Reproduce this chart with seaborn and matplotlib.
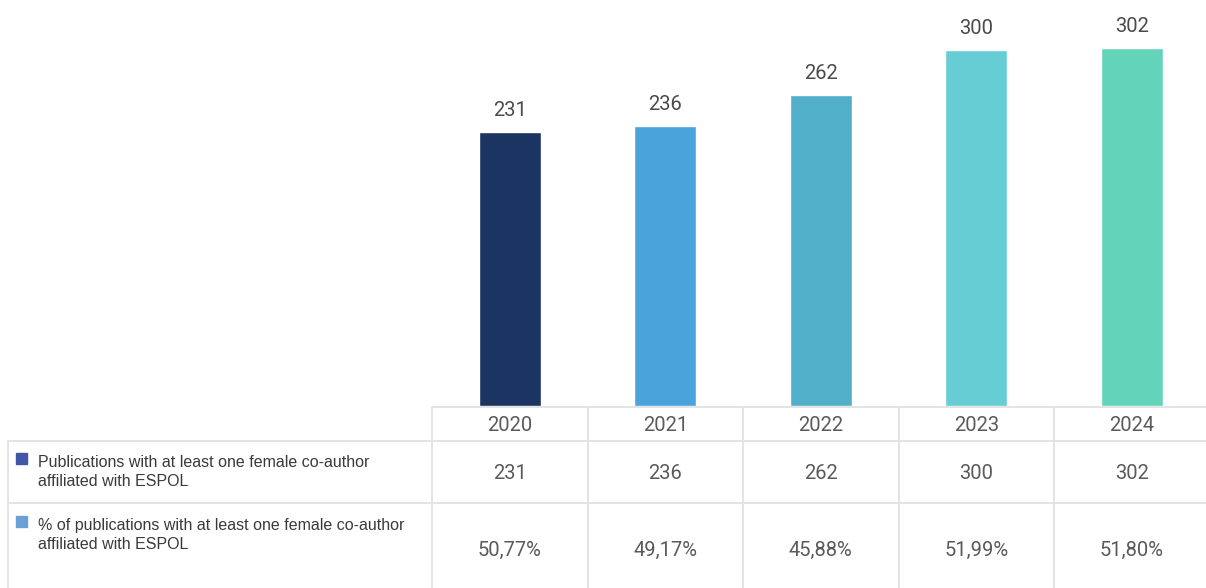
import matplotlib
matplotlib.use("Agg")
import matplotlib.pyplot as plt
from matplotlib.patches import Rectangle
import seaborn as sns
import pandas as pd

years = ["2020", "2021", "2022", "2023", "2024"]
publications = [231, 236, 262, 300, 302]
percent_labels = ["50,77%", "49,17%", "45,88%", "51,99%", "51,80%"]
bar_colors = ["#1B3461", "#4BA3DC", "#52AFC9", "#65CDD3", "#63D3BA"]
row_labels = [
    "Publications with at least one female co-author\naffiliated with ESPOL",
    "% of publications with at least one female co-author\naffiliated with ESPOL",
]
legend_colors = ["#4356A6", "#6C9FD6"]

W, H = 1206, 588
sns.set_theme(style="white")
plt.rcParams["font.family"] = ["Roboto", "DejaVu Sans"]

fig = plt.figure(figsize=(W / 100, H / 100), dpi=100)

# Bar area sits above the data table; columns are 155.5 px wide starting at x=432
col_left, col_w, base_y = 432, 155.5, 406
ax = fig.add_axes([col_left / W, (H - base_y) / H, 5 * col_w / W, base_y / H])
df = pd.DataFrame({"year": years, "value": publications})
sns.barplot(data=df, x="year", y="value", hue="year", palette=bar_colors,
            width=0.4, legend=False, ax=ax, saturation=1)
ax.set_xlim(-0.5, 4.5)
ax.set_ylim(0, 342.3)
ax.axis("off")
for i, v in enumerate(publications):
    ax.annotate(f"{v}", (i, v), xytext=(0, 15.5), textcoords="offset points",
                ha="center", va="center", fontsize=14.5, color="#4a4a4a")

# Overlay in pixel coordinates for the table grid and text
ov = fig.add_axes([0, 0, 1, 1], facecolor="none")
ov.set_xlim(0, W)
ov.set_ylim(H, 0)
ov.axis("off")
grid = dict(color="#E2E2E2", lw=1.3)
ov.plot([col_left, W], [base_y + 1, base_y + 1], **grid)
ov.plot([8, W], [441, 441], **grid)
ov.plot([8, W], [503, 503], **grid)
ov.plot([8, 8], [441, H], **grid)
for i in range(5):
    x = col_left + col_w * i
    ov.plot([x, x], [base_y + 1, H], **grid)

centers = [col_left + col_w * (i + 0.5) for i in range(5)]
txt = dict(ha="center", va="center", fontsize=14.5, color="#5a5a5a")
for c, yr, v, p in zip(centers, years, publications, percent_labels):
    ov.text(c, 425.5, yr, **txt)
    ov.text(c, 473.5, f"{v}", **txt)
    ov.text(c, 550, p, **txt)

for lab, col, ytop in zip(row_labels, legend_colors, [453, 516]):
    ov.add_patch(Rectangle((16, ytop), 11, 11, color=col))
    ov.text(38, ytop + 19, lab, ha="left", va="center", fontsize=11.5,
            color="#3a3a3a", family=["Liberation Sans", "DejaVu Sans"],
            linespacing=1.4)

fig.savefig("out.png", dpi=100)
